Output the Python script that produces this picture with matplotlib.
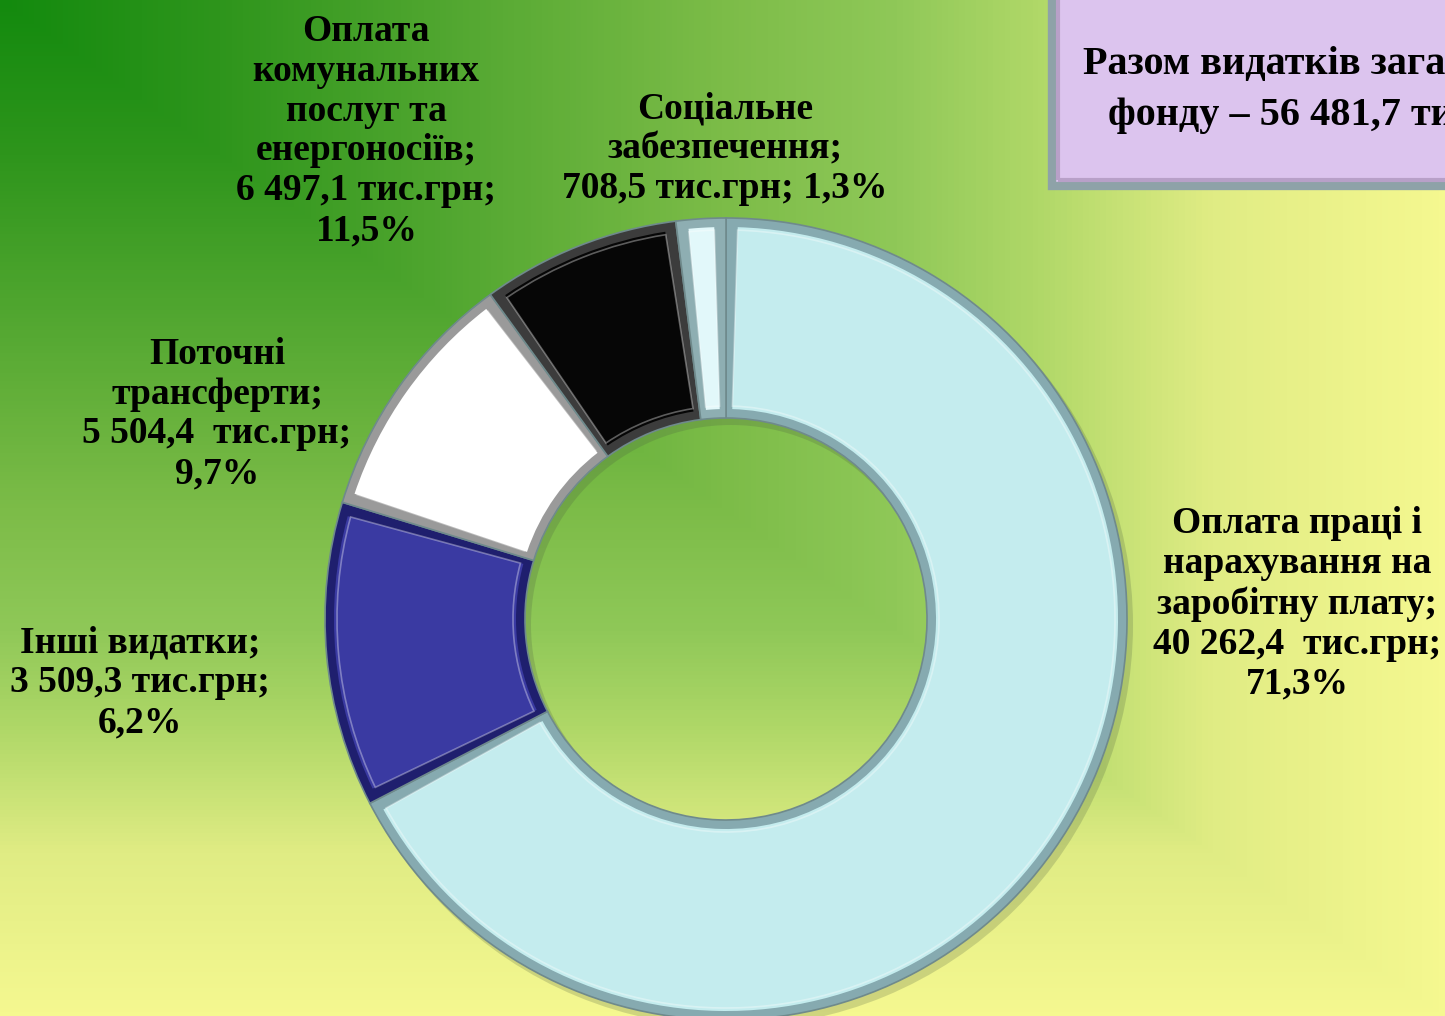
import numpy as np
import matplotlib
matplotlib.use("Agg")
import matplotlib.pyplot as plt
from matplotlib.colors import LinearSegmentedColormap
from matplotlib.patches import Wedge, Rectangle

W, H = 1445, 1016

# slice shares as drawn in the picture (clockwise from 12 o'clock)
categories = ["Оплата праці", "Інші видатки", "Поточні трансферти",
              "Оплата комунальних послуг", "Соціальне забезпечення"]
shares = [67.4, 12.3, 10.3, 8.0, 2.0]
colors = ["#c4ecee", "#3a3aa2", "#ffffff", "#060606", "#e2f8fa"]
shades = ["#86aab0", "#1f1f6e", "#9a9a9a", "#3c3c3c", "#8eaeb2"]

# label texts as printed on the chart
labels = [
    "Оплата праці і\nнарахування на\nзаробітну плату;\n40 262,4  тис.грн;\n71,3%",
    "Інші видатки;\n3 509,3 тис.грн;\n6,2%",
    "Поточні\nтрансферти;\n5 504,4  тис.грн;\n9,7%",
    "Оплата\nкомунальних\nпослуг та\nенергоносіїв;\n6 497,1 тис.грн;\n11,5%",
    "Соціальне\nзабезпечення;\n708,5 тис.грн; 1,3%",
]
label_pos = [(1297, 604), (140, 683), (217, 414), (366, 131), (725, 149)]
total_text = "Разом видатків загального\nфонду – 56 481,7 тис.грн"

fig = plt.figure(figsize=(W / 100, H / 100), dpi=100)
ax = fig.add_axes([0, 0, 1, 1])

# background: rectangular gradient from top-left corner
yy, xx = np.mgrid[0:H, 0:W]
t = np.maximum(xx / W, yy / H)
bg = LinearSegmentedColormap.from_list("bg", [
    (0.0, "#138a0e"), (0.15, "#2e951c"), (0.5, "#7cbc48"), (0.62, "#8fc858"),
    (0.72, "#b0d868"), (0.84, "#e0ec84"), (1.0, "#f5f890")])
ax.imshow(t, cmap=bg, extent=[0, W, 0, H], origin="upper", zorder=0, aspect="auto")

cx, cy, R, ring = 726, H - 619, 401, 200

# soft shadow under the ring
ax.add_patch(Wedge((cx + 5, cy - 6), R + 1, 0, 360, width=ring + 2,
                   facecolor="#4a5a40", alpha=0.22, lw=0, zorder=1))

wedges, _ = ax.pie(shares, colors=shades, startangle=90, counterclock=False,
                   radius=R, center=(cx, cy),
                   wedgeprops=dict(width=ring, edgecolor="#6f8a8c", linewidth=1.2))
for w in wedges:
    w.set_zorder(2)

# bevel: inset face on top of the darker base
b = 9
for w, c in zip(wedges, colors):
    r_mid = R - ring / 2
    d = np.degrees(b / r_mid)
    ax.add_patch(Wedge((cx, cy), R - b, w.theta1 + d, w.theta2 - d,
                       width=ring - 2 * b, facecolor=c, lw=0, zorder=3))
    ax.add_patch(Wedge((cx, cy), R - b - 3, w.theta1 + d, w.theta2 - d,
                       width=ring - 2 * b - 6, facecolor="none",
                       edgecolor="white", lw=1.2, alpha=0.35, zorder=4))

font = dict(family="Liberation Serif", weight="bold", color="black")
for txt, (x, y) in zip(labels, label_pos):
    ax.text(x, H - y, txt, ha="center", va="center", fontsize=27,
            linespacing=1.18, zorder=5, **font)

# total box in the top-right corner
ax.add_patch(Rectangle((1052, H - 186), 420, 200, facecolor="#dcc4ee",
                       edgecolor="#8ea2a8", lw=6, zorder=5))
ax.add_patch(Rectangle((1058, H - 180), 420, 200, facecolor="none",
                       edgecolor="#b8a0c8", lw=3, zorder=5))
ax.text(1083, H - 90, total_text, ha="left", va="center", fontsize=29,
        linespacing=1.5, multialignment="center", zorder=6, **font)

ax.set_xlim(0, W)
ax.set_ylim(0, H)
ax.set_aspect("auto")
ax.axis("off")

fig.savefig("out.png", dpi=100)
